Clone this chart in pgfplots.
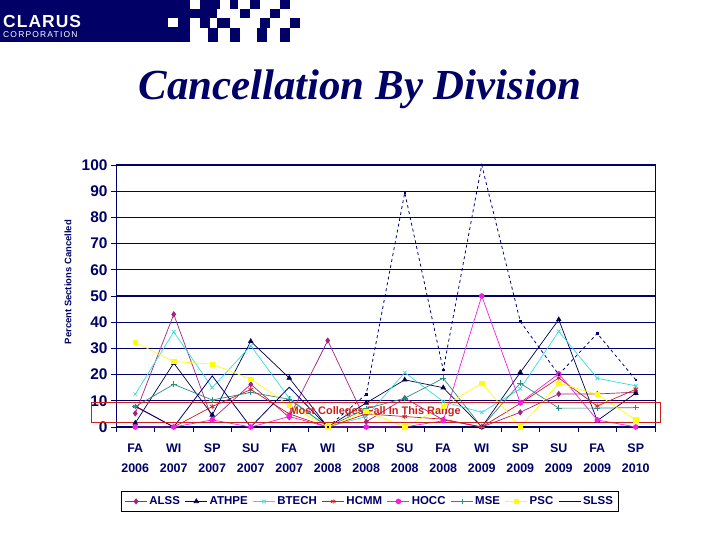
\documentclass[border=0pt]{standalone}
\usepackage{pgfplots}
\pgfplotsset{compat=1.18}
\usepackage{fontspec}
\setmainfont{Liberation Sans}
\newfontfamily\titlefont{Liberation Serif}
\definecolor{navyc}{HTML}{000066}
\definecolor{alssc}{HTML}{A3237D}
\definecolor{athpec}{HTML}{000050}
\definecolor{btechc}{HTML}{33DDDD}
\definecolor{hcmmc}{HTML}{C81E1E}
\definecolor{hoccc}{HTML}{F020E0}
\definecolor{msec}{HTML}{2A8C80}
\definecolor{pscc}{HTML}{FFFF00}
\definecolor{slssc}{HTML}{000080}
\definecolor{boxred}{HTML}{CC2020}
\begin{document}
\begin{tikzpicture}
\useasboundingbox (0,0) rectangle (720bp,540bp);
\begin{scope}[shift={(0bp,540bp)}, x=1bp, y=-1bp]
  % header bar
  \fill[navyc] (0,0) rectangle (190,42);
  \fill[white] (168,18) rectangle (178,27);
  \fill[navyc] (200,0) rectangle (220,9);
  \fill[navyc] (230,0) rectangle (238,9);
  \fill[navyc] (250,0) rectangle (260,9);
  \fill[navyc] (280,0) rectangle (290,9);
  \fill[navyc] (190,9) rectangle (217,18);
  \fill[navyc] (240,9) rectangle (250,18);
  \fill[navyc] (270,9) rectangle (280,18);
  \fill[navyc] (200,18) rectangle (210,28);
  \fill[navyc] (217,18) rectangle (230,28);
  \fill[navyc] (260,18) rectangle (270,28);
  \fill[navyc] (290,18) rectangle (300,28);
  \fill[navyc] (208,28) rectangle (218,42);
  \fill[navyc] (230,28) rectangle (240,42);
  \fill[navyc] (257,28) rectangle (267,42);
  \fill[navyc] (280,28) rectangle (290,42);
  \node[anchor=base west, text=white, inner sep=0pt, font=\bfseries\fontsize{17.5}{17.5}\selectfont\addfontfeature{LetterSpace=6}] at (3,28) {CLARUS};
  \node[anchor=base west, text=white, inner sep=0pt, font=\fontsize{8.5}{8.5}\selectfont\addfontfeature{LetterSpace=14}] at (3,38) {CORPORATION};
  % title
  \node[text=navyc, font=\titlefont\bfseries\itshape\fontsize{43}{43}\selectfont] at (360,89) {Cancellation By Division};
\end{scope}
\begin{axis}[
  at={(116bp,113bp)}, anchor=south west,
  scale only axis, width=539bp, height=262bp,
  xmin=-0.5, xmax=13.5, ymin=0, ymax=100,
  clip=false,
  axis line style={navyc, line width=1bp},
  ymajorgrids, major grid style={navyc, line width=1.1bp},
  ytick={0,10,...,100},
  xtick={-0.5,0.5,...,13.5}, xticklabels={},
  extra x ticks={0,1,...,13},
  extra x tick labels={{FA\\2006},{WI\\2007},{SP\\2007},{SU\\2007},{FA\\2007},{WI\\2008},{SP\\2008},{SU\\2008},{FA\\2008},{WI\\2009},{SP\\2009},{SU\\2009},{FA\\2009},{SP\\2010}},
  extra x tick style={major tick length=0pt, grid=none},
  tick align=outside, xtick pos=bottom, ytick pos=left,
  major tick length=5bp,
  tick style={navyc, line width=0.8bp},
  /pgf/number format/assume math mode=true,
  yticklabel style={font=\bfseries\fontsize{15.5}{15.5}\selectfont, text=navyc},
  xticklabel style={font=\bfseries\fontsize{12.5}{20}\selectfont, text=navyc, align=center, yshift=-13bp},
  ylabel={Percent Sections Cancelled},
  ylabel style={font=\bfseries\fontsize{9.5}{10}\selectfont, text=navyc, at={(axis description cs:-0.089,0.553)}, anchor=center},
  legend columns=8,
  legend style={at={(axis description cs:0.471,-0.284)}, anchor=center, draw=black, line width=0.8bp,
    font=\bfseries\fontsize{11.5}{12}\selectfont, text=navyc, inner sep=3bp,
    /tikz/every even column/.append style={column sep=3bp}},
  legend image code/.code={\draw[mark repeat=2,mark phase=2] plot coordinates {(0bp,0bp) (11bp,0bp) (22bp,0bp)};},
  every axis plot/.append style={line width=0.7bp},
]
\addplot[color=alssc, mark=diamond*, mark size=2.6bp] coordinates {
(0,5.2) (1,43) (2,3) (3,16.3) (4,3.7) (5,33) (6,2) (7,11) (8,2.7) (9,0) (10,5.6) (11,12.6) (12,12.6) (13,13.3)};
\addlegendentry{ALSS}
\addplot[color=athpec, mark=triangle*, mark size=2.6bp] coordinates {
(0,1.5) (1,24.4) (2,4.6) (3,32.7) (4,18.7) (5,0) (6,9.2) (7,18) (8,15) (9,0) (10,20.8) (11,41) (12,2.4) (13,12.9)};
\addlegendentry{ATHPE}
\addplot[color=btechc, mark=x, mark size=2.6bp] coordinates {
(0,12.5) (1,36.3) (2,15) (3,31) (4,11) (5,0) (6,4) (7,20.8) (8,9.7) (9,5.6) (10,14.6) (11,36.5) (12,18.6) (13,15.7)};
\addlegendentry{BTECH}
\addplot[color=hcmmc, mark=asterisk, mark size=2.6bp] coordinates {
(0,7.8) (1,0) (2,7.8) (3,14.3) (4,5) (5,0) (6,5) (7,4) (8,3) (9,0) (10,9) (11,18.7) (12,8) (13,14.4)};
\addlegendentry{HCMM}
\addplot[color=hoccc, mark=*, mark size=2.4bp] coordinates {
(0,0) (1,0) (2,2.7) (3,0) (4,4) (5,0) (6,0) (7,0) (8,2.4) (9,50) (10,9.3) (11,20.3) (12,2.7) (13,0)};
\addlegendentry{HOCC}
\addplot[color=msec, mark=+, mark size=2.8bp] coordinates {
(0,7.8) (1,16.3) (2,10.3) (3,13.2) (4,10.6) (5,0) (6,7) (7,11) (8,18.6) (9,0) (10,16.7) (11,7.2) (12,7.2) (13,7.4)};
\addlegendentry{MSE}
\addplot[color=pscc, mark=square*, mark size=2.2bp] coordinates {
(0,32.3) (1,25) (2,24) (3,18.3) (4,8.2) (5,0) (6,6) (7,0) (8,7.8) (9,16.7) (10,0) (11,16.7) (12,12.5) (13,2.7)};
\addlegendentry{PSC}
\addplot[color=slssc, line width=0.8bp] coordinates {
(0,8) (1,0) (2,19.5) (3,0) (4,15.2) (5,0)};
\addlegendentry{SLSS}
\addplot[color=slssc, line width=0.8bp, dashed, mark=square*, mark size=0.8bp, mark options={solid}, forget plot] coordinates {
(5,0) (6,12.5) (7,89.5) (8,21.8) (9,100) (10,40.3) (11,20) (12,35.7) (13,18)};
\draw[boxred, line width=0.9bp] (axis cs:-1.15,1.8) rectangle (axis cs:13.64,9.5);
\node[text=boxred, font=\bfseries\fontsize{11}{11}\selectfont] at (axis cs:6.23,5.7) {Most Colleges Fall In This Range};
\end{axis}
\end{tikzpicture}
\end{document}
